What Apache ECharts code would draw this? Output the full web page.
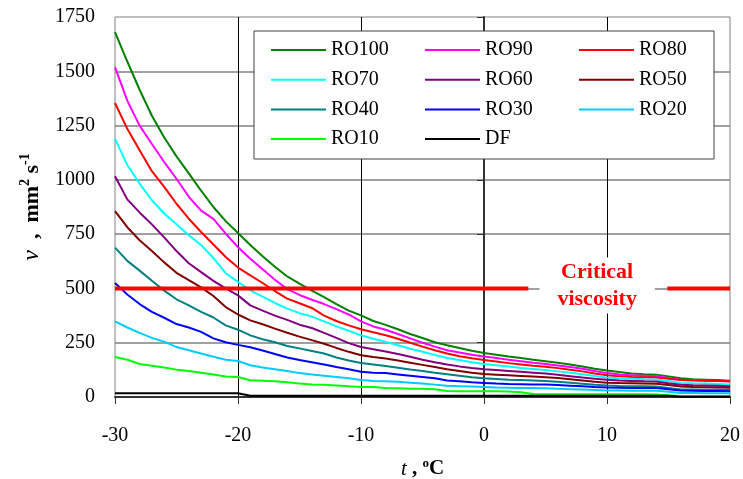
<!DOCTYPE html>
<html>
<head>
<meta charset="utf-8">
<script src="https://cdn.jsdelivr.net/npm/echarts@6/dist/echarts.min.js"></script>
<style>
html,body{margin:0;padding:0;background:#fff}
#main{width:743px;height:479px}
</style>
</head>
<body>
<div id="main"></div>
<script>
// temperature, degC
var temps = [-30,-29,-28,-27,-26,-25,-24,-23,-22,-21,
  -20,-19,-18,-17,-16,-15,-14,-13,-12,-11,
  -10,-9,-8,-7,-6,-5,-4,-3,-2,-1,
  0,1,2,3,4,5,6,7,8,9,
  10,11,12,13,14,15,16,17,18,19,
  20];

// kinematic viscosity, mm2/s
var ro100 = [1680,1545,1415,1295,1195,1108,1030,950,875,810,
  755,700,648,600,555,522,490,460,428,398,
  376,350,332,312,290,272,252,238,226,213,
  203,195,187,180,172,165,158,150,140,130,
  122,115,108,105,103,95,86,82,80,78,
  75];
var ro90 = [1519,1365,1250,1165,1082,1005,922,858,820,752,
  690,637,588,540,497,470,448,428,405,380,
  348,325,310,290,270,250,232,215,205,195,
  187,180,172,165,158,152,145,138,130,120,
  110,104,100,98,96,88,80,78,76,74,
  72];
var ro80 = [1354,1235,1136,1040,968,890,821,760,702,645,
  596,560,525,488,453,432,410,375,350,330,
  312,298,284,268,250,232,215,200,188,178,
  170,163,156,150,144,139,133,126,118,108,
  100,95,92,91,90,84,78,76,75,74,
  73];
var ro70 = [1190,1068,983,906,845,795,745,700,640,570,
  530,491,462,433,407,386,370,348,325,305,
  284,268,254,238,222,208,193,180,170,160,
  152,146,140,134,129,124,118,112,105,97,
  90,86,84,82,81,74,65,63,62,60,
  58];
var ro60 = [1017,910,850,795,735,672,616,575,535,500,
  468,422,398,375,355,333,318,295,272,248,
  230,220,210,198,185,172,160,150,141,134,
  128,124,120,116,112,108,102,96,90,84,
  80,76,74,72,71,63,56,54,53,52,
  50];
var ro50 = [856,782,722,672,620,572,538,505,465,414,
  380,353,335,315,296,278,262,245,226,208,
  192,184,177,168,158,148,138,128,120,112,
  106,103,100,97,94,91,87,82,76,70,
  66,64,63,62,61,55,48,46,45,44,
  43];
var ro40 = [688,627,582,535,490,450,422,392,366,330,
  310,284,266,252,235,224,212,200,182,168,
  157,150,143,135,127,120,112,105,98,91,
  86,83,80,78,76,74,70,66,61,56,
  53,51,50,49,48,42,35,34,33,33,
  32];
var ro30 = [525,472,428,392,365,336,320,300,270,252,
  240,229,214,198,182,170,160,150,138,128,
  116,112,110,104,98,92,86,76,72,68,
  65,62,60,59,58,57,55,52,49,46,
  44,43,42,42,41,36,30,29,28,28,
  27];
var ro20 = [348,320,295,272,255,230,215,200,185,172,
  166,146,136,128,120,110,104,98,92,86,
  78,74,72,70,66,62,57,52,50,48,
  46,44,43,42,41,40,38,36,34,32,
  30,30,29,29,29,24,18,18,17,17,
  17];
var ro10 = [184,172,152,144,136,126,120,112,104,94,
  92,77,75,72,68,62,58,56,53,49,
  46,46,42,40,38,38,36,28,27,26,
  26,26,25,22,14,13,13,13,13,13,
  13,13,13,13,12,8,5,5,5,5,
  5];
var df = [17,17,17,17,17,17,17,17,17,17,
  17,6,6,6,6,6,6,6,6,6,
  6,6,6,6,6,6,6,6,6,6,
  6,6,6,6,6,6,6,6,6,6,
  6,6,6,6,6,6,1,1,1,1,
  1];

// critical viscosity line, broken where the label sits
var criticalT = [-30, 3.6, 9, 14.9, 20];
var criticalV = [500, 500, '-', 500, 500];
var criticalLabelT = 9.2;

var xTicks = {min: -30, max: 20, step: 10};
var yTicks = {min: 0, max: 1750, step: 250};

var serif = '"Liberation Serif", "Times New Roman", serif';

function pairs(xs, ys){
  return xs.map(function(x, i){ return [x, ys[i]]; });
}

function curve(name, color, values){
  return {
    name: name,
    type: 'line',
    data: pairs(temps, values),
    symbol: 'none',
    lineStyle: {width: 2, color: color},
    itemStyle: {color: color}
  };
}

var series = [
  curve('RO100', '#008000', ro100),
  curve('RO90', '#ff00ff', ro90),
  curve('RO80', '#ff0000', ro80),
  curve('RO70', '#00ffff', ro70),
  curve('RO60', '#800080', ro60),
  curve('RO50', '#800000', ro50),
  curve('RO40', '#008080', ro40),
  curve('RO30', '#0000ff', ro30),
  curve('RO20', '#00ccff', ro20),
  curve('RO10', '#00ff00', ro10),
  curve('DF', '#000000', df),
  {
    name: 'critical',
    type: 'line',
    data: pairs(criticalT, criticalV),
    symbol: 'none',
    connectNulls: false,
    z: 5,
    lineStyle: {width: 4, color: '#ff0000'},
    markPoint: {
      symbol: 'circle',
      symbolSize: 0,
      data: [{coord: [criticalLabelT, 500]}],
      label: {
        show: true,
        position: 'inside',
        offset: [0, -3],
        formatter: 'Critical\nviscosity',
        color: '#ff0000',
        fontFamily: serif,
        fontWeight: 'bold',
        fontSize: 22,
        lineHeight: 27,
        backgroundColor: '#fff',
        padding: [1, 18]
      }
    }
  }
];

function legendCol(left, names){
  return {
    data: names,
    orient: 'vertical',
    left: left,
    top: 40,
    padding: 0,
    itemWidth: 55,
    itemHeight: 20,
    itemGap: 9.7,
    itemStyle: {opacity: 0},
    z: 10,
    selectedMode: false,
    textStyle: {fontFamily: serif, fontSize: 20, color: '#000'}
  };
}

var chart = echarts.init(document.getElementById('main'));
chart.setOption({
  animation: false,
  backgroundColor: '#fff',
  grid: {
    left: 115, right: 13, top: 17, bottom: 82,
    outerBoundsMode: 'none',
    show: true, borderColor: '#808080', borderWidth: 1
  },
  graphic: [{
    type: 'rect',
    z: 8,
    shape: {x: 254, y: 31, width: 460, height: 128},
    style: {fill: '#fff', stroke: '#404040', lineWidth: 1}
  }],
  legend: [
    legendCol(270, ['RO100', 'RO70', 'RO40', 'RO10']),
    legendCol(424, ['RO90', 'RO60', 'RO30', 'DF']),
    legendCol(578, ['RO80', 'RO50', 'RO20'])
  ],
  xAxis: {
    type: 'value',
    min: xTicks.min, max: xTicks.max, interval: xTicks.step,
    name: '{it|t}{b| , }{sup|o}{b|C}',
    nameLocation: 'middle',
    nameGap: 60,
    nameTextStyle: {
      rich: {
        it: {fontFamily: serif, fontStyle: 'italic', fontSize: 21, color: '#000', lineHeight: 24},
        b: {fontFamily: serif, fontWeight: 'bold', fontSize: 21, color: '#000', lineHeight: 24},
        sup: {fontFamily: serif, fontWeight: 'bold', fontSize: 13, color: '#000', verticalAlign: 'top', lineHeight: 24}
      }
    },
    axisLine: {show: true, onZero: false, lineStyle: {color: '#333', width: 2}},
    axisTick: {show: true, length: 7, lineStyle: {color: '#333', width: 1}},
    axisLabel: {fontFamily: serif, fontSize: 20, color: '#000', margin: 29},
    splitLine: {show: true, showMinLine: false, showMaxLine: false, lineStyle: {color: '#000', width: 1}}
  },
  yAxis: {
    type: 'value',
    min: yTicks.min, max: yTicks.max, interval: yTicks.step,
    name: '{it|ν}{b|  ,  mm}{sup|2}{b| s}{sup|-1}',
    nameLocation: 'middle',
    nameGap: 66,
    nameTextStyle: {
      rich: {
        it: {fontFamily: serif, fontStyle: 'italic', fontSize: 24, color: '#000', lineHeight: 28},
        b: {fontFamily: serif, fontWeight: 'bold', fontSize: 22, color: '#000', lineHeight: 28},
        sup: {fontFamily: serif, fontWeight: 'bold', fontSize: 14, color: '#000', verticalAlign: 'top', lineHeight: 28}
      }
    },
    axisLine: {show: true, lineStyle: {color: '#333', width: 2}},
    axisTick: {show: true, length: 7, lineStyle: {color: '#333', width: 1}},
    axisLabel: {
      fontFamily: serif, fontSize: 20, color: '#000', margin: 20,
      formatter: function(v){ return String(v); }
    },
    splitLine: {show: true, showMinLine: false, showMaxLine: false, lineStyle: {color: '#808080', width: 1.5}}
  },
  series: series
});
</script>
</body>
</html>
